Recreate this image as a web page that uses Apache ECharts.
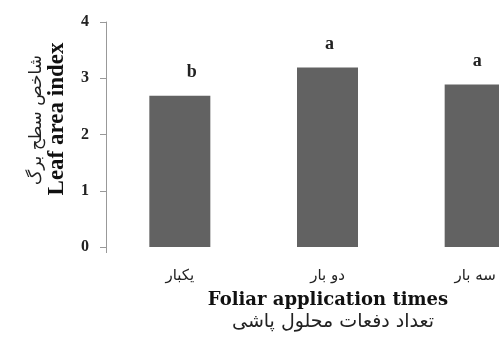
<!DOCTYPE html>
<html>
<head>
<meta charset="utf-8">
<script src="https://cdn.jsdelivr.net/npm/echarts@6/dist/echarts.min.js"></script>
<style>html,body{margin:0;padding:0;background:#fff;overflow:hidden;width:499px;height:351px}#c{width:549px;height:351px}</style>
</head>
<body>
<div id="c"></div>
<script>
var categories = ['یکبار', 'دو بار', 'سه بار'];
var values = [2.69, 3.19, 2.89];
var letters = ['b', 'a', 'a'];
var yTicks = [0, 1, 2, 3, 4];

var chart = echarts.init(document.getElementById('c'), null, {renderer: 'canvas'});
var serif = '"Liberation Serif", "Times New Roman", serif';
var persian = '"DejaVu Sans", sans-serif';

chart.setOption({
  animation: false,
  backgroundColor: '#fff',
  grid: {left: 106, top: 22, bottom: 104, right: 0},
  xAxis: {
    type: 'category',
    data: categories,
    axisLine: {show: true, lineStyle: {color: 'rgba(255,255,255,0)'}},
    axisTick: {show: true, length: 6, lineStyle: {color: '#999', width: 1}, interval: function (i) { return i === 1; }},
    axisLabel: {fontFamily: persian, fontSize: 15, color: '#222', margin: 22}
  },
  yAxis: {
    type: 'value',
    min: yTicks[0],
    max: yTicks[yTicks.length - 1],
    interval: 1,
    splitLine: {show: false},
    axisLine: {show: true, lineStyle: {color: '#999'}},
    axisTick: {show: true, length: 6, lineStyle: {color: '#999'}},
    axisLabel: {fontFamily: serif, fontWeight: 'bold', fontSize: 16, color: '#222', margin: 17}
  },
  series: [{
    type: 'bar',
    data: values.map(function (v, i) {
      return {value: v, label: {formatter: letters[i], offset: i === 0 ? [12, 0] : [2, 0]}};
    }),
    barWidth: 61,
    itemStyle: {color: '#626262'},
    label: {show: true, position: 'top', distance: 14, fontFamily: serif, fontWeight: 'bold', fontSize: 18, color: '#222'}
  }],
  graphic: [
    {type: 'text', x: 57, y: 119, rotation: Math.PI / 2, style: {text: 'Leaf area index', font: 'bold 23px ' + serif, fill: '#111', align: 'center', verticalAlign: 'middle'}},
    {type: 'text', x: 37, y: 120, rotation: Math.PI / 2, style: {text: 'شاخص سطح برگ', font: '17px ' + persian, fill: '#222', align: 'center', verticalAlign: 'middle'}},
    {type: 'text', x: 328, y: 300, style: {text: 'Foliar application times', font: 'bold 18px "DejaVu Serif", serif', fill: '#111', align: 'center', verticalAlign: 'middle'}},
    {type: 'text', x: 333, y: 322, style: {text: 'تعداد دفعات محلول پاشی', font: '19px ' + persian, fill: '#222', align: 'center', verticalAlign: 'middle'}}
  ]
});
</script>
</body>
</html>
